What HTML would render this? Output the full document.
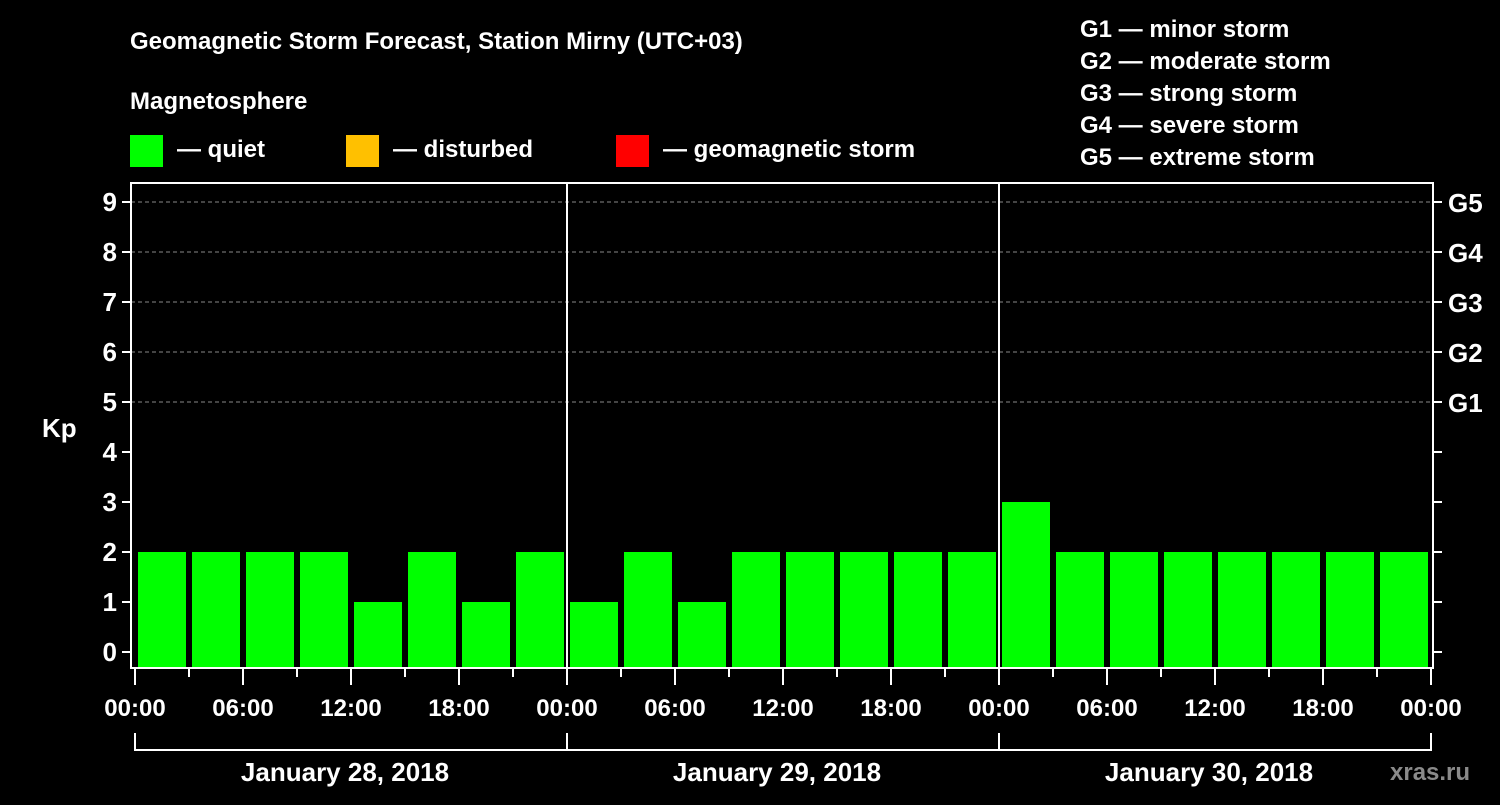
<!DOCTYPE html>
<html><head><meta charset="utf-8"><style>
body{margin:0;background:#000;}
svg text{font-family:"Liberation Sans",sans-serif;font-weight:bold;fill:#fff;}
</style></head><body>
<svg id="c" width="1500" height="800" xmlns="http://www.w3.org/2000/svg">
<rect width="1500" height="800" fill="#000"/>
<text x="130" y="49" font-size="24">Geomagnetic Storm Forecast, Station Mirny (UTC+03)</text>
<text x="130" y="109" font-size="24">Magnetosphere</text>
<g><rect x="130" y="135" width="33" height="32" fill="#00ff00"/><text x="177" y="157" font-size="24">— quiet</text></g>
<g><rect x="346" y="135" width="33" height="32" fill="#ffc000"/><text x="393" y="157" font-size="24">— disturbed</text></g>
<g><rect x="616" y="135" width="33" height="32" fill="#ff0000"/><text x="663" y="157" font-size="24">— geomagnetic storm</text></g>
<g font-size="24">
<text x="1080" y="37">G1 — minor storm</text>
<text x="1080" y="69">G2 — moderate storm</text>
<text x="1080" y="101">G3 — strong storm</text>
<text x="1080" y="133">G4 — severe storm</text>
<text x="1080" y="165">G5 — extreme storm</text>
</g>
<text x="42" y="437" font-size="26">Kp</text>
<text x="1390" y="780" font-size="24" fill="#888" style="fill:#8a8a8a">xras.ru</text>
<g id="plot"></g>
</svg>
<script>
const kpValues=[2,2,2,2,1,2,1,2, 1,2,1,2,2,2,2,2, 3,2,2,2,2,2,2,2];
const dayLabels=["January 28, 2018","January 29, 2018","January 30, 2018"];
const timeLabels=["00:00","06:00","12:00","18:00"];
const yTicks=[0,1,2,3,4,5,6,7,8,9];
const gLabels=["G1","G2","G3","G4","G5"];
const NS="http://www.w3.org/2000/svg";
const g=document.getElementById('plot');
const x0=135,hourW=18,L=131,R=1433,T=183,B=668;
const xs=h=>x0+h*hourW;
const ys=v=>652-v*50;
function mk(t,a,p){const e=document.createElementNS(NS,t);for(const k in a)e.setAttribute(k,a[k]);(p||g).appendChild(e);return e;}
// grid
yTicks.filter(v=>v>=5).forEach(v=>{
const l=mk('line',{x1:L,x2:R,y1:ys(v),y2:ys(v),stroke:'#888','stroke-dasharray':'4,3','stroke-width':1});


});
// bars
kpValues.forEach((v,i)=>{
const b=mk('rect',{x:xs(i*3)+3,y:ys(v),width:48,height:B-1-ys(v),fill:v>=5?'#ff0000':v>=4?'#ffc000':'#00ff00'});


});
// frame
const f=mk('rect',{x:L,y:T,width:R-L,height:B-T,fill:'none',stroke:'#fff','stroke-width':2});


// day separators
for(let d=1;d<dayLabels.length;d++){
const l=mk('line',{x1:xs(d*24),x2:xs(d*24),y1:T,y2:B,stroke:'#fff','stroke-width':2});


}
// y ticks
yTicks.forEach(v=>{
mk('line',{x1:L-9,x2:L,y1:ys(v),y2:ys(v),stroke:'#fff','stroke-width':2});
mk('line',{x1:R,x2:R+9,y1:ys(v),y2:ys(v),stroke:'#fff','stroke-width':2});
const t=mk('text',{x:L-14,y:ys(v)+9,'font-size':26,'text-anchor':'end'});t.textContent=v;


});
gLabels.forEach((s,i)=>{
const t=mk('text',{x:1448,y:ys(5+i)+10,'font-size':26});t.textContent=s;


});
// x ticks
for(let h=0;h<=72;h+=3){
const major=h%6===0;
mk('line',{x1:xs(h),x2:xs(h),y1:B,y2:B+(major?17:9),stroke:'#fff','stroke-width':2});
if(major){const t=mk('text',{x:xs(h),y:716,'font-size':24,'text-anchor':'middle'});t.textContent=timeLabels[(h/6)%4];

}
}
// day brackets
dayLabels.forEach((s,d)=>{
const a=xs(d*24),b=xs(d*24+24);
mk('line',{x1:a,x2:b,y1:750,y2:750,stroke:'#fff','stroke-width':2});
mk('line',{x1:a,x2:a,y1:733,y2:751,stroke:'#fff','stroke-width':2});
mk('line',{x1:b,x2:b,y1:733,y2:751,stroke:'#fff','stroke-width':2});
const t=mk('text',{x:(a+b)/2-219+213,y:781,'font-size':26,'text-anchor':'middle'});t.textContent=s;


});
</script>
</body></html>
